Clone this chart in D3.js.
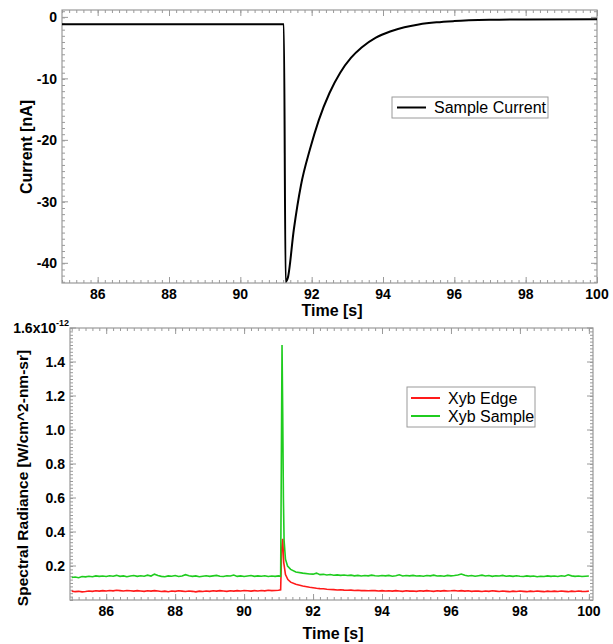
<!DOCTYPE html>
<meta charset="utf-8">
<script src="https://d3js.org/d3.v7.min.js"></script>
<style>
  body { margin: 0; background: #fff; }
  text { font-family: "Liberation Sans", Arial, sans-serif; }
  .tick-lbl { font-size: 14px; font-weight: bold; }
  .title { font-size: 16px; font-weight: bold; }
  .legends { font-size: 16px; }
</style>
<div id="my_dataviz"></div>
<script>
// ---------- data ----------
// sample current [nA] vs time [s]
var currentPts = [
  [85, -1.1], [91.22, -1.1], [91.27, -43.0], [91.33, -42.4], [91.5, -34.5],
  [91.7, -27.3], [91.95, -21.5], [92.2, -16.7], [92.5, -12.3], [92.8, -9.0],
  [93.1, -6.6], [93.4, -4.9], [93.8, -3.3], [94.2, -2.3], [94.6, -1.6],
  [95.0, -1.15], [95.5, -0.8], [96.0, -0.6], [97.0, -0.4], [98.0, -0.33], [100, -0.3]
];

// spectral radiance [1e-12 W/cm^2-nm-sr], sampled every 0.1 s
var sampleBefore = [ // 85.0 .. 91.0
  0.132,0.135,0.131,0.138,0.136,0.140,0.137,0.142,0.139,0.141,
  0.138,0.143,0.140,0.145,0.139,0.142,0.137,0.141,0.144,0.139,
  0.143,0.140,0.146,0.141,0.152,0.144,0.139,0.137,0.142,0.140,
  0.144,0.138,0.141,0.149,0.143,0.139,0.142,0.137,0.140,0.143,
  0.139,0.142,0.145,0.140,0.138,0.143,0.141,0.147,0.139,0.142,
  0.138,0.141,0.144,0.139,0.142,0.140,0.143,0.138,0.141,0.139,
  0.142];
var sampleSpike = [
  [91.06,0.14],[91.08,0.8],[91.10,1.50],[91.12,1.1],[91.14,0.6],[91.16,0.35],
  [91.2,0.24],[91.26,0.2],[91.35,0.18],[91.5,0.165],[91.7,0.158],[91.9,0.153]];
var sampleAfter = [ // 92.0 .. 100.0
  0.152,0.158,0.149,0.151,0.147,0.150,0.146,0.148,0.145,0.147,
  0.144,0.146,0.142,0.145,0.141,0.144,0.142,0.146,0.143,0.141,
  0.144,0.142,0.145,0.140,0.143,0.148,0.141,0.144,0.142,0.145,
  0.141,0.143,0.140,0.144,0.142,0.146,0.141,0.143,0.140,0.145,
  0.142,0.144,0.147,0.153,0.145,0.141,0.144,0.140,0.143,0.146,
  0.141,0.144,0.139,0.143,0.141,0.145,0.140,0.142,0.139,0.143,
  0.140,0.138,0.142,0.139,0.141,0.137,0.140,0.138,0.142,0.139,
  0.141,0.138,0.143,0.140,0.148,0.142,0.139,0.141,0.138,0.140,
  0.141];

var edgeBefore = [ // 85.0 .. 91.0
  0.052,0.049,0.051,0.048,0.050,0.053,0.051,0.054,0.052,0.055,
  0.053,0.056,0.054,0.057,0.055,0.053,0.056,0.054,0.052,0.055,
  0.053,0.051,0.054,0.052,0.055,0.053,0.050,0.052,0.049,0.053,
  0.051,0.054,0.052,0.050,0.053,0.051,0.048,0.052,0.050,0.053,
  0.051,0.054,0.052,0.055,0.053,0.051,0.054,0.052,0.055,0.053,
  0.056,0.054,0.052,0.055,0.053,0.056,0.054,0.057,0.055,0.056,
  0.057];
var edgeSpike = [
  [91.06,0.06],[91.09,0.30],[91.12,0.36],[91.15,0.22],[91.2,0.15],[91.27,0.12],
  [91.35,0.105],[91.5,0.092],[91.7,0.082],[91.9,0.075]];
var edgeAfter = [ // 92.0 .. 100.0
  0.072,0.069,0.067,0.066,0.063,0.062,0.061,0.059,0.060,0.058,
  0.057,0.058,0.056,0.057,0.055,0.056,0.054,0.056,0.055,0.053,
  0.055,0.053,0.054,0.052,0.055,0.053,0.051,0.054,0.052,0.053,
  0.051,0.054,0.052,0.055,0.053,0.051,0.054,0.052,0.055,0.053,
  0.054,0.056,0.053,0.055,0.052,0.054,0.051,0.053,0.052,0.050,
  0.053,0.051,0.054,0.052,0.050,0.053,0.051,0.049,0.052,0.050,
  0.053,0.051,0.049,0.052,0.050,0.053,0.051,0.049,0.052,0.050,
  0.052,0.050,0.053,0.051,0.049,0.052,0.050,0.053,0.051,0.050,
  0.052];

var xTicks = [86, 88, 90, 92, 94, 96, 98, 100];
var currentTicks = [0, -10, -20, -30, -40];
var radianceTicks = [0.2, 0.4, 0.6, 0.8, 1.0, 1.2, 1.4, 1.6];

// join the 0.1 s grid segments with the hand-read spike points
function joinSeries(before, spike, after) {
  var out = before.map(function(v, i) { return [85 + i * 0.1, v]; });
  out = out.concat(spike);
  return out.concat(after.map(function(v, i) { return [92 + i * 0.1, v]; }));
}
var sampleSeries = joinSeries(sampleBefore, sampleSpike, sampleAfter);
var edgeSeries = joinSeries(edgeBefore, edgeSpike, edgeAfter);

// ---------- drawing ----------
var svg = d3.select('#my_dataviz').append('svg')
  .attr('width', 613).attr('height', 644);

var frameColor = '#9a9a9a';

function drawFrame(x, y, xMinor, yMinor) {
  var x0 = x.range()[0], x1 = x.range()[1], y0 = y.range()[0], y1 = y.range()[1];
  var g = svg.append('g');
  // inward ticks on all four sides
  function axisAt(gen, tr, ticks, size) {
    var a = g.append('g').attr('transform', tr)
      .call(gen.tickValues(ticks).tickSize(size).tickFormat(''));
    a.select('.domain').remove();
    a.selectAll('line').attr('stroke', frameColor).attr('stroke-width', 1);
  }
  axisAt(d3.axisTop(x), 'translate(0,' + y0 + ')', xMinor, 3);
  axisAt(d3.axisBottom(x), 'translate(0,' + y1 + ')', xMinor, 3);
  axisAt(d3.axisLeft(y), 'translate(' + x1 + ',0)', yMinor, 3);
  axisAt(d3.axisRight(y), 'translate(' + x0 + ',0)', yMinor, 3);
  axisAt(d3.axisTop(x), 'translate(0,' + y0 + ')', xTicks, 6);
  axisAt(d3.axisBottom(x), 'translate(0,' + y1 + ')', xTicks, 6);
  g.append('rect')
    .attr('x', x0).attr('y', y1).attr('width', x1 - x0).attr('height', y0 - y1)
    .attr('fill', 'none').attr('stroke', frameColor).attr('stroke-width', 1.2);
  // x tick labels
  g.selectAll('.xl').data(xTicks).enter().append('text')
    .classed('tick-lbl', true)
    .attr('x', function(d) { return x(d); }).attr('y', y0 + 16)
    .attr('text-anchor', 'middle').text(function(d) { return d; });
  return g;
}

// --- top panel: sample current ---
var xTop = d3.scaleLinear().domain([85, 100]).range([62, 597]);
var yTop = d3.scaleLinear().domain([-43.2, 1.2]).range([283, 10]);

var gTop = drawFrame(xTop, yTop, d3.range(85, 100.01, 0.2), d3.range(-43, 1.01, 1));
gTop.append('g').selectAll('line').data(currentTicks).enter().append('line')
  .attr('x1', 62).attr('x2', 68)
  .attr('y1', function(d) { return yTop(d); }).attr('y2', function(d) { return yTop(d); })
  .attr('stroke', frameColor);
gTop.append('g').selectAll('line').data(currentTicks).enter().append('line')
  .attr('x1', 591).attr('x2', 597)
  .attr('y1', function(d) { return yTop(d); }).attr('y2', function(d) { return yTop(d); })
  .attr('stroke', frameColor);
gTop.selectAll('.yl').data(currentTicks).enter().append('text')
  .classed('tick-lbl', true)
  .attr('x', 57).attr('y', function(d) { return yTop(d) + 5; })
  .attr('text-anchor', 'end').text(function(d) { return d; });

svg.append('path').datum(currentPts)
  .attr('fill', 'none').attr('stroke', '#000').attr('stroke-width', 2)
  .attr('stroke-linejoin', 'round')
  .attr('d', d3.line()
    .x(function(d) { return xTop(d[0]); })
    .y(function(d) { return yTop(d[1]); })
    .curve(d3.curveMonotoneX));

svg.append('text').classed('title', true)
  .attr('x', 332).attr('y', 316).attr('text-anchor', 'middle').text('Time [s]');
svg.append('text').classed('title', true)
  .attr('transform', 'translate(32,147) rotate(-90)')
  .attr('text-anchor', 'middle').text('Current [nA]');

// legend top
var legTop = svg.append('g').attr('transform', 'translate(392,97)');
legTop.append('rect').attr('width', 156).attr('height', 21)
  .attr('fill', '#fff').attr('stroke', frameColor);
legTop.append('line').attr('x1', 5).attr('x2', 34).attr('y1', 10.5).attr('y2', 10.5)
  .attr('stroke', '#000').attr('stroke-width', 2);
legTop.append('text').classed('legends', true).attr('x', 42).attr('y', 16).text('Sample Current');

// --- bottom panel: spectral radiance ---
var xBot = d3.scaleLinear().domain([84.95, 100.12]).range([70, 593]);
var yBot = d3.scaleLinear().domain([0, 1.6]).range([600, 328]);

var gBot = drawFrame(xBot, yBot, d3.range(85, 100.01, 0.2), d3.range(0, 1.601, 0.02));
gBot.append('g').selectAll('line').data(radianceTicks).enter().append('line')
  .attr('x1', 70).attr('x2', 76)
  .attr('y1', function(d) { return yBot(d); }).attr('y2', function(d) { return yBot(d); })
  .attr('stroke', frameColor);
gBot.append('g').selectAll('line').data(radianceTicks).enter().append('line')
  .attr('x1', 587).attr('x2', 593)
  .attr('y1', function(d) { return yBot(d); }).attr('y2', function(d) { return yBot(d); })
  .attr('stroke', frameColor);
gBot.selectAll('.yl').data(radianceTicks.slice(0, -1)).enter().append('text')
  .classed('tick-lbl', true)
  .attr('x', 65).attr('y', function(d) { return yBot(d) + 5; })
  .attr('text-anchor', 'end').text(function(d) { return d.toFixed(1); });
gBot.append('text').classed('tick-lbl', true)
  .attr('x', 56).attr('y', yBot(1.6) + 5).attr('text-anchor', 'end').text('1.6x10');
gBot.append('text').classed('tick-lbl', true)
  .attr('x', 56).attr('y', yBot(1.6) - 2).style('font-size', '9px').text('-12');

var line = d3.line()
  .x(function(d) { return xBot(d[0]); })
  .y(function(d) { return yBot(d[1]); });
svg.append('path').datum(edgeSeries)
  .attr('fill', 'none').attr('stroke', '#ff1a1a').attr('stroke-width', 1.6).attr('d', line);
svg.append('path').datum(sampleSeries)
  .attr('fill', 'none').attr('stroke', '#1fcc1f').attr('stroke-width', 1.6).attr('d', line);

svg.append('text').classed('title', true)
  .attr('x', 333).attr('y', 639).attr('text-anchor', 'middle').text('Time [s]');
svg.append('text').classed('title', true)
  .attr('transform', 'translate(28,478) rotate(-90)')
  .style('font-size', '15.5px')
  .attr('text-anchor', 'middle').text('Spectral Radiance [W/cm^2-nm-sr]');

// legend bottom
var legBot = svg.append('g').attr('transform', 'translate(407,387)');
legBot.append('rect').attr('width', 128).attr('height', 40)
  .attr('fill', '#fff').attr('stroke', frameColor);
[['Xyb Edge', '#ff1a1a'], ['Xyb Sample', '#1fcc1f']].forEach(function(d, i) {
  legBot.append('line').attr('x1', 4).attr('x2', 33)
    .attr('y1', 11 + i * 18).attr('y2', 11 + i * 18)
    .attr('stroke', d[1]).attr('stroke-width', 2);
  legBot.append('text').classed('legends', true)
    .attr('x', 41).attr('y', 16.5 + i * 18).text(d[0]);
});
</script>
